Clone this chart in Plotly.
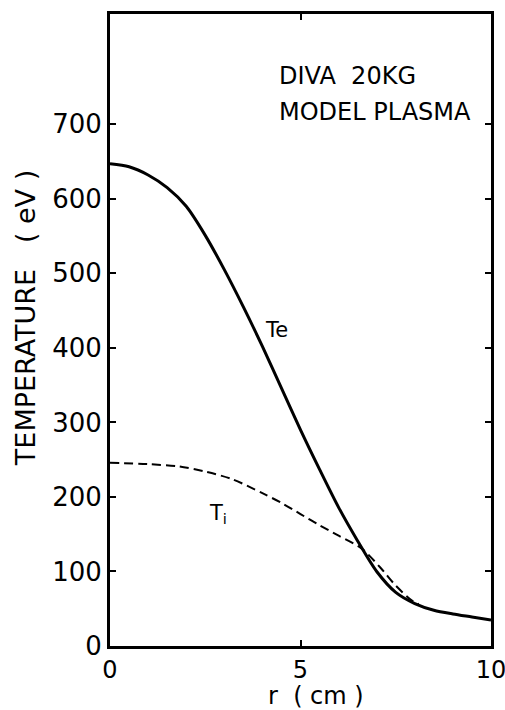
import plotly.graph_objects as go

r_te = [0, 0.5, 1, 1.5, 2, 2.5, 3, 3.5, 4, 4.5, 5, 5.5, 6, 6.5, 7, 7.5, 8, 8.5, 9, 9.5, 10]
te = [647, 643, 632, 615, 590, 551, 505, 455, 402, 346, 290, 237, 186, 141, 100, 72, 57, 48, 43, 39, 35]

r_ti = [0, 1, 1.8, 2.5, 3.2, 4, 4.5, 5, 5.5, 6, 6.6, 7.1, 7.5, 7.9, 8.1]
ti = [246, 244, 241, 234, 224, 205, 192, 177, 162, 148, 131, 105, 81, 62, 56]

y_ticks = [0, 100, 200, 300, 400, 500, 600, 700]
x_ticks = [0, 5, 10]

FONT = "DejaVu Sans, sans-serif"
NB = "\u00a0"

fig = go.Figure()
fig.add_trace(go.Scatter(x=r_ti, y=ti, mode="lines",
                         line=dict(color="black", width=2, dash="9px,5px", shape="spline", smoothing=0.8),
                         showlegend=False, hoverinfo="skip"))
fig.add_trace(go.Scatter(x=r_te, y=te, mode="lines",
                         line=dict(color="black", width=3, shape="spline", smoothing=0.8),
                         showlegend=False, hoverinfo="skip"))

axis_common = dict(showline=True, linecolor="black", linewidth=3, mirror="ticks",
                   ticks="inside", ticklen=6, tickwidth=1.5, tickcolor="black",
                   showgrid=False, zeroline=False, ticklabeloverflow="allow",
                   automargin=False)

fig.update_xaxes(range=[0, 10], tickvals=x_ticks,
                 tickfont=dict(family=FONT, size=24, color="black"), **axis_common)
fig.update_yaxes(range=[0, 848], tickvals=y_ticks,
                 tickfont=dict(family=FONT, size=26, color="black"), **axis_common)

ann_font = dict(family=FONT, size=24, color="black")
fig.add_annotation(x=4.38, y=765, xref="x", yref="y", text="DIVA" + NB * 2 + "20KG",
                   showarrow=False, xanchor="left", yanchor="middle", font=ann_font)
fig.add_annotation(x=4.38, y=717, xref="x", yref="y", text="MODEL PLASMA",
                   showarrow=False, xanchor="left", yanchor="middle", font=ann_font)
fig.add_annotation(x=4.37, y=424, xref="x", yref="y", text="Te",
                   showarrow=False, font=dict(family=FONT, size=21, color="black"))
fig.add_annotation(x=2.83, y=177, xref="x", yref="y", text="T<sub>i</sub>",
                   showarrow=False, font=dict(family=FONT, size=21, color="black"))
fig.add_annotation(x=-0.22, y=0.519, xref="paper", yref="paper",
                   text="TEMPERATURE" + NB * 3 + "(" + NB + "eV" + NB + ")",
                   textangle=-90, showarrow=False, xanchor="center", yanchor="middle",
                   font=dict(family=FONT, size=27, color="black"))
fig.add_annotation(x=0.541, y=-0.079, xref="paper", yref="paper",
                   text="r" + NB * 2 + "(" + NB + "cm" + NB + ")",
                   showarrow=False, xanchor="center", yanchor="middle", height=24,
                   font=dict(family=FONT, size=24, color="black"))

fig.update_layout(width=505, height=710,
                  margin=dict(l=110, r=14, t=14, b=64),
                  paper_bgcolor="white", plot_bgcolor="white")

fig.write_html("out.html")
